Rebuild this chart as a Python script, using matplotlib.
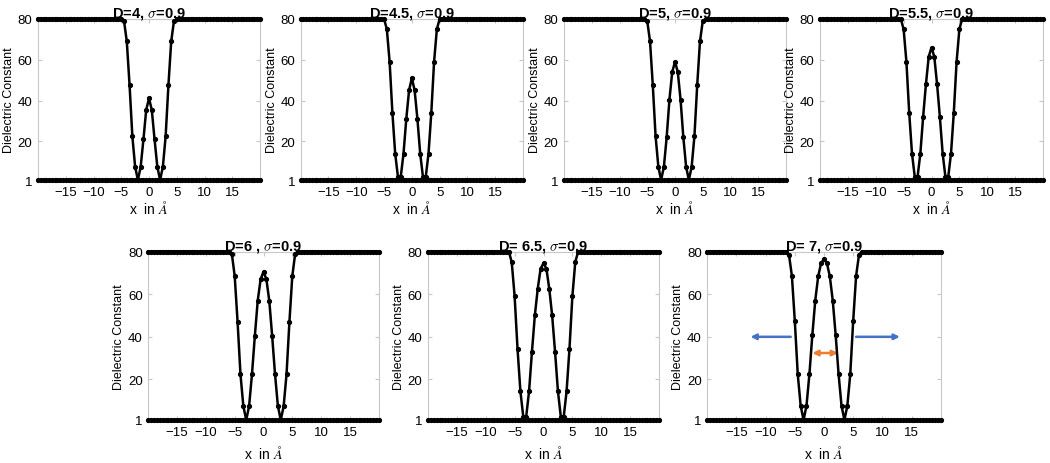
import numpy as np
import matplotlib
matplotlib.use("Agg")
import matplotlib.pyplot as plt

plt.rcParams['font.family'] = ['Liberation Sans', 'DejaVu Sans']
plt.rcParams['mathtext.fontset'] = 'cm'

# ---- data -------------------------------------------------------------
x_grid = np.arange(-20.0, 20.5, 0.5)          # sampling grid (Å)
baseline = [1.0] * 81                          # epsilon = 1 line
pad_left = [80.0] * 26                         # x = -20 .. -7.5
pad_right = [80.0] * 26                        # x = 7.5 .. 20

# core values for x = -7 .. 7 (step 0.5)
core_D4 = [80, 80, 80, 80, 80, 79, 69, 47.5, 22.5, 7.5, 1, 7.5, 21, 35.5, 41,
           35.5, 21, 7.5, 1, 7.5, 22.5, 47.5, 69, 79, 80, 80, 80, 80, 80]
core_D45 = [80, 80, 80, 80, 80, 75, 59, 34, 14, 2.5, 2.5, 14, 31, 45, 51,
            45, 31, 14, 2.5, 2.5, 14, 34, 59, 75, 80, 80, 80, 80, 80]
core_D5 = [80, 80, 80, 80, 79, 69, 47.5, 22.5, 7.5, 1, 7.5, 22, 40.5, 54, 59,
           54, 40.5, 22, 7.5, 1, 7.5, 22.5, 47.5, 69, 79, 80, 80, 80, 80]
core_D55 = [80, 80, 80, 80, 75, 59, 34, 14, 2.5, 2.5, 14, 32, 48, 61.5, 66,
            61.5, 48, 32, 14, 2.5, 2.5, 14, 34, 59, 75, 80, 80, 80, 80]
core_D6 = [80, 80, 80, 79, 68.5, 47, 22.5, 7.5, 1, 7.5, 22.5, 40.5, 57, 67, 70.5,
           67, 57, 40.5, 22.5, 7.5, 1, 7.5, 22.5, 47, 68.5, 79, 80, 80, 80]
core_D65 = [80, 80, 80, 75, 59, 34.5, 14.5, 2.5, 2.5, 14.5, 33, 50, 62.5, 72, 74.5,
            72, 62.5, 50, 33, 14.5, 2.5, 2.5, 14.5, 34.5, 59, 75, 80, 80, 80]
core_D7 = [80, 80, 78.5, 68.5, 47.3, 22.5, 7.7, 1, 7.7, 22.5, 40.8, 57, 68.3, 74.5, 76.5,
           74.5, 68.3, 57, 40.8, 22.5, 7.7, 1, 7.7, 22.5, 47.3, 68.5, 78.5, 80, 80]

titles = [r'D=4, $\sigma$=0.9', r'D=4.5, $\sigma$=0.9', r'D=5, $\sigma$=0.9',
          r'D=5.5, $\sigma$=0.9', r'D=6 , $\sigma$=0.9', r'D= 6.5, $\sigma$=0.9',
          r'D= 7, $\sigma$=0.9']
cores = [core_D4, core_D45, core_D5, core_D55, core_D6, core_D65, core_D7]

x_ticks = [-15, -10, -5, 0, 5, 10, 15]
y_ticks = [1, 20, 40, 60, 80]

# arrows in last panel (x0, x1, y)
blue_arrows = [(-5.7, -12.6, 40), (5.5, 13.0, 40)]
orange_arrow = (-2.0, 2.4, 32.4)

# ---- layout -----------------------------------------------------------
W, H = 1050, 464
fig = plt.figure(figsize=(W / 100, H / 100), dpi=100)

top_boxes = [(38, 260), (300.7, 523), (564, 786), (820, 1043)]
bot_boxes = [(148.3, 378.7), (428, 659), (707.3, 940.7)]
rects = []
for l, r in top_boxes:
    rects.append((l / W, (H - 181) / H, (r - l) / W, 161 / H, 1))
for l, r in bot_boxes:
    rects.append((l / W, (H - 421) / H, (r - l) / W, 168.5 / H, 5))

spine_col = '#c8c8c8'
axes = []
for i, (rect, core, title) in enumerate(zip(rects, cores, titles)):
    ax = fig.add_axes(rect[:4])
    y = pad_left + core + pad_right
    ax.plot(x_grid, baseline, '-', color='black', lw=1.8, marker='.', ms=5.5,
            clip_on=False, zorder=3)
    ax.plot(x_grid, y, '-', color='black', lw=1.8, marker='.', ms=5.5,
            clip_on=False, zorder=4)
    ax.set_xlim(-20, 20)
    ax.set_ylim(1, 80)
    ax.set_xticks(x_ticks)
    ax.set_yticks(y_ticks)
    ax.tick_params(direction='in', length=3, color=spine_col, labelsize=9.5,
                   top=True, right=True, labelcolor='black', pad=4)
    for s in ax.spines.values():
        s.set_color(spine_col)
        s.set_linewidth(0.8)
    ax.set_title(title, fontsize=10.5, fontweight='bold', pad=1.5)
    ax.set_ylabel('Dielectric Constant', fontsize=9, labelpad=2)
    ax.set_xlabel(r'x  in $\mathit{\AA}$', fontsize=10, labelpad=rect[4])
    axes.append(ax)

ax = axes[-1]
for x0, x1, yy in blue_arrows:
    ax.annotate('', xy=(x1, yy), xytext=(x0, yy),
                arrowprops=dict(arrowstyle='-|>', color='#4472C4', lw=1.8,
                                mutation_scale=8, shrinkA=0, shrinkB=0))
x0, x1, yy = orange_arrow
ax.annotate('', xy=(x1, yy), xytext=(x0, yy),
            arrowprops=dict(arrowstyle='<|-|>', color='#ED7D31', lw=1.8,
                            mutation_scale=8, shrinkA=0, shrinkB=0))

fig.savefig('out.png', dpi=100)
